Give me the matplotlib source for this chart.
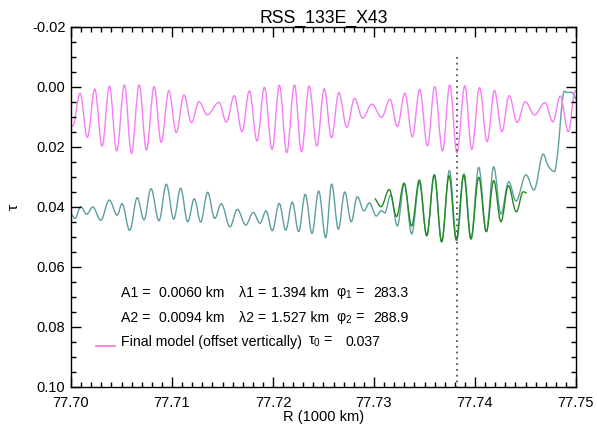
import matplotlib
matplotlib.use("Agg")
import matplotlib.pyplot as plt
from matplotlib.path import Path
from matplotlib.patches import PathPatch
from matplotlib.ticker import MultipleLocator, FormatStrFormatter

plt.rcParams['font.family'] = ['Liberation Sans', 'DejaVu Sans']
plt.rcParams['axes.unicode_minus'] = False
plt.rcParams['mathtext.default'] = 'regular'

# ---------------- data (local extrema) ----------------
model_x = [77.70000, 77.70017, 77.70089, 77.70162, 77.70235, 77.70308, 77.70380, 77.70453,
           77.70529, 77.70598, 77.70675, 77.70747, 77.70823, 77.70893, 77.70969, 77.71042,
           77.71118, 77.71193, 77.71267, 77.71349, 77.71465, 77.71538, 77.71617, 77.71693,
           77.71766, 77.71842, 77.71915, 77.71991, 77.72063, 77.72136, 77.72212, 77.72282,
           77.72358, 77.72434, 77.72507, 77.72579, 77.72652, 77.72731, 77.72808, 77.72887,
           77.72979, 77.73075, 77.73158, 77.73231, 77.73306, 77.73380, 77.73452, 77.73529,
           77.73601, 77.73678, 77.73750, 77.73821, 77.73899, 77.73968, 77.74045, 77.74120,
           77.74193, 77.74266, 77.74338, 77.74418, 77.74497, 77.74590, 77.74692, 77.74772,
           77.74844, 77.74924, 77.74993, 77.75010]
model_tau = [0.0125, 0.0131, 0.0022, 0.0169, 0.0008, 0.0198, -0.0002, 0.0214,
             -0.0006, 0.0222, -0.0006, 0.0211, 0.0000, 0.0185, 0.0013, 0.0153,
             0.0028, 0.0120, 0.0050, 0.0094, 0.0052, 0.0118, 0.0030, 0.0150,
             0.0014, 0.0181, 0.0002, 0.0209, -0.0005, 0.0220, -0.0006, 0.0217,
             -0.0002, 0.0198, 0.0007, 0.0170, 0.0020, 0.0135, 0.0039, 0.0105,
             0.0058, 0.0102, 0.0042, 0.0133, 0.0022, 0.0167, 0.0009, 0.0197,
             0.0000, 0.0214, -0.0006, 0.0220, -0.0003, 0.0209, 0.0003, 0.0183,
             0.0013, 0.0150, 0.0030, 0.0119, 0.0050, 0.0094, 0.0053, 0.0117,
             0.0031, 0.0150, 0.0014, 0.0016]

data_x = [77.70000, 77.70040, 77.70096, 77.70155, 77.70215, 77.70294, 77.70379, 77.70458,
          77.70505, 77.70581, 77.70656, 77.70723, 77.70792, 77.70871, 77.70944, 77.71017,
          77.71086, 77.71155, 77.71221, 77.71284, 77.71353, 77.71423, 77.71488, 77.71574,
          77.71647, 77.71730, 77.71805, 77.71871, 77.71931, 77.71993, 77.72062, 77.72126,
          77.72191, 77.72254, 77.72320, 77.72386, 77.72452, 77.72522, 77.72581, 77.72647,
          77.72710, 77.72775, 77.72835, 77.72901, 77.72954, 77.73023, 77.73074, 77.73106,
          77.73165, 77.73231, 77.73300, 77.73373, 77.73449, 77.73522, 77.73597, 77.73670,
          77.73746, 77.73819, 77.73891, 77.73960, 77.74037, 77.74112, 77.74185, 77.74257,
          77.74334, 77.74406, 77.74505, 77.74584, 77.74676, 77.74723, 77.74787, 77.74825,
          77.74851, 77.74876, 77.74901, 77.74955, 77.75000]
data_tau = [0.0422, 0.0439, 0.0400, 0.0425, 0.0401, 0.0445, 0.0378, 0.0428,
            0.0390, 0.0479, 0.0370, 0.0444, 0.0340, 0.0447, 0.0325, 0.0441,
            0.0339, 0.0450, 0.0374, 0.0451, 0.0352, 0.0439, 0.0390, 0.0467,
            0.0409, 0.0461, 0.0419, 0.0455, 0.0414, 0.0480, 0.0389, 0.0478,
            0.0385, 0.0483, 0.0359, 0.0489, 0.0348, 0.0503, 0.0325, 0.0475,
            0.0351, 0.0450, 0.0367, 0.0414, 0.0387, 0.0431, 0.0413, 0.0421,
            0.0361, 0.0464, 0.0322, 0.0491, 0.0320, 0.0494, 0.0294, 0.0517,
            0.0280, 0.0513, 0.0291, 0.0505, 0.0269, 0.0483, 0.0267, 0.0424,
            0.0317, 0.0381, 0.0294, 0.0344, 0.0225, 0.0263, 0.0283, 0.0200,
            0.0094, 0.0021, 0.0019, 0.0019, 0.0041]

fit_x = [77.73010, 77.73069, 77.73151, 77.73223, 77.73297, 77.73373, 77.73449, 77.73522,
         77.73597, 77.73670, 77.73743, 77.73815, 77.73888, 77.73960, 77.74037, 77.74112,
         77.74185, 77.74257, 77.74330, 77.74409, 77.74478, 77.74512]
fit_tau = [0.0372, 0.0400, 0.0343, 0.0433, 0.0322, 0.0464, 0.0311, 0.0497,
           0.0294, 0.0517, 0.0297, 0.0511, 0.0294, 0.0508, 0.0302, 0.0483,
           0.0313, 0.0450, 0.0330, 0.0417, 0.0350, 0.0355]

marker_r = 77.7382
marker_top = -0.010

title = "RSS_133E_X43"
xlabel = "R (1000 km)"
ylabel = "τ"
row1 = ["A1 =", "0.0060 km", "λ1 =", "1.394 km", "φ$_1$ =", "283.3"]
row2 = ["A2 =", "0.0094 km", "λ2 =", "1.527 km", "φ$_2$ =", "288.9"]
row3 = ["Final model (offset vertically)", "τ$_0$ =", "0.037"]


def smooth_path(xs, ys):
    n = len(xs)
    m = []
    for i in range(n):
        if i == 0:
            m.append((ys[1] - ys[0]) / (xs[1] - xs[0]))
        elif i == n - 1:
            m.append((ys[-1] - ys[-2]) / (xs[-1] - xs[-2]))
        elif (ys[i] - ys[i - 1]) * (ys[i + 1] - ys[i]) <= 0:
            m.append(0.0)
        else:
            m.append((ys[i + 1] - ys[i - 1]) / (xs[i + 1] - xs[i - 1]))
    verts = [(xs[0], ys[0])]
    codes = [Path.MOVETO]
    for i in range(n - 1):
        dx = xs[i + 1] - xs[i]
        a = 0.364 if (m[i] == 0 and m[i + 1] == 0) else 1 / 3
        verts += [(xs[i] + a * dx, ys[i] + m[i] * a * dx),
                  (xs[i + 1] - a * dx, ys[i + 1] - m[i + 1] * a * dx),
                  (xs[i + 1], ys[i + 1])]
        codes += [Path.CURVE4] * 3
    return Path(verts, codes)


fig = plt.figure(figsize=(5.97, 4.25), dpi=100)
ax = fig.add_axes([71 / 597, 1 - 386.7 / 425, 505 / 597, 360 / 425])

for xs, ys, col in [(data_x, data_tau, '#5f9ea0'),
                    (fit_x, fit_tau, '#228b22'),
                    (model_x, model_tau, '#f57ef5')]:
    ax.add_patch(PathPatch(smooth_path(xs, ys), fill=False, edgecolor=col,
                           lw=1.0, transform=ax.transData))

ax.vlines(marker_r, marker_top, 0.10, colors='#555555', linestyles=(0, (1, 2.2)), lw=1.3)

ax.set_xlim(77.70, 77.75)
ax.set_ylim(0.10, -0.02)
ax.xaxis.set_major_locator(MultipleLocator(0.01))
ax.xaxis.set_minor_locator(MultipleLocator(0.001))
ax.yaxis.set_major_locator(MultipleLocator(0.02))
ax.yaxis.set_minor_locator(MultipleLocator(0.005))
ax.xaxis.set_major_formatter(FormatStrFormatter('%.2f'))
ax.yaxis.set_major_formatter(FormatStrFormatter('%.2f'))
ax.tick_params(which='both', direction='in', top=True, right=True, width=1, labelsize=10.5)
ax.tick_params(axis='x', which='major', length=7, pad=7)
ax.tick_params(axis='y', which='major', length=7, pad=4)
ax.tick_params(which='minor', length=3.5)
for s in ax.spines.values():
    s.set_linewidth(1)

ax.set_title(title, fontsize=12.7, pad=3)
ax.set_xlabel(xlabel, fontsize=10.5, labelpad=0)
ax.set_ylabel(ylabel, fontsize=11, labelpad=8)

fs = 10.2
xa = [0.099, 0.1743, 0.3333, 0.3965, 0.5250, 0.598]
for j, t in enumerate(row1):
    ax.text(xa[j], 0.259, t, transform=ax.transAxes, fontsize=fs, va='center')
for j, t in enumerate(row2):
    ax.text(xa[j], 0.190, t, transform=ax.transAxes, fontsize=fs, va='center')
for xp, t in zip([0.099, 0.469, 0.5426], row3):
    ax.text(xp, 0.125, t, transform=ax.transAxes, fontsize=fs, va='center')
ax.plot([0.049, 0.088], [0.113, 0.113], transform=ax.transAxes, color='#f576c8', lw=1.2)

fig.savefig('out.png', dpi=100)
